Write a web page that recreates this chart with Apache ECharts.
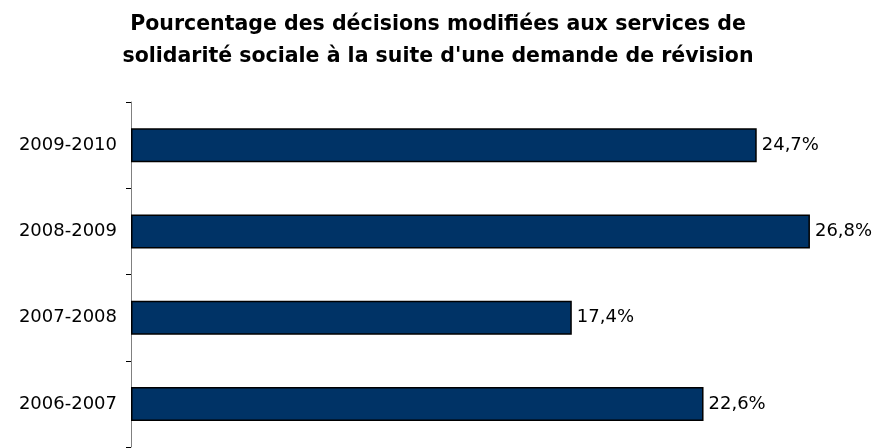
<!DOCTYPE html>
<html>
<head>
<meta charset="utf-8">
<script src="https://cdn.jsdelivr.net/npm/echarts@6/dist/echarts.min.js"></script>
<style>
  html, body { margin: 0; padding: 0; background: #fff; }
  #chart { width: 876px; height: 448px; }
</style>
</head>
<body>
<div id="chart"></div>
<script>
/* données */
var periodes = ['2006-2007', '2007-2008', '2008-2009', '2009-2010'];
var pourcentages = [22.6, 17.4, 26.8, 24.7];
var titre = 'Pourcentage des décisions modifiées aux services de\nsolidarité sociale à la suite d\'une demande de révision';

var chart = echarts.init(document.getElementById('chart'));

chart.setOption({
    animation: false,
    backgroundColor: '#ffffff',
    title: {
        text: titre,
        left: 'center',
        top: 4,
        textStyle: {
            fontFamily: 'DejaVu Sans',
            fontWeight: 'bold',
            fontSize: 20.5,
            lineHeight: 32,
            color: '#000'
        }
    },
    grid: {
        left: 131,
        top: 102,
        width: 760,
        height: 345,
        outerBoundsMode: 'none',
        containLabel: false
    },
    xAxis: {
        type: 'value',
        min: 0,
        max: 30,
        show: false
    },
    yAxis: {
        type: 'category',
        data: periodes,
        axisLine: { show: true, lineStyle: { color: '#808080', width: 1 } },
        axisTick: { show: true, inside: false, length: 5, lineStyle: { color: '#000' } },
        axisLabel: {
            margin: 14,
            fontFamily: 'DejaVu Sans',
            fontSize: 18,
            color: '#000'
        },
        splitLine: { show: false }
    },
    series: [{
        type: 'bar',
        data: pourcentages,
        barWidth: 34,
        itemStyle: {
            color: '#003366',
            borderColor: '#000',
            borderWidth: 1.5
        },
        label: {
            show: true,
            position: 'right',
            distance: 5,
            fontFamily: 'DejaVu Sans',
            fontSize: 18,
            color: '#000',
            formatter: function (p) {
                return p.value.toFixed(1).replace('.', ',') + '%';
            }
        }
    }]
});
</script>
</body>
</html>
